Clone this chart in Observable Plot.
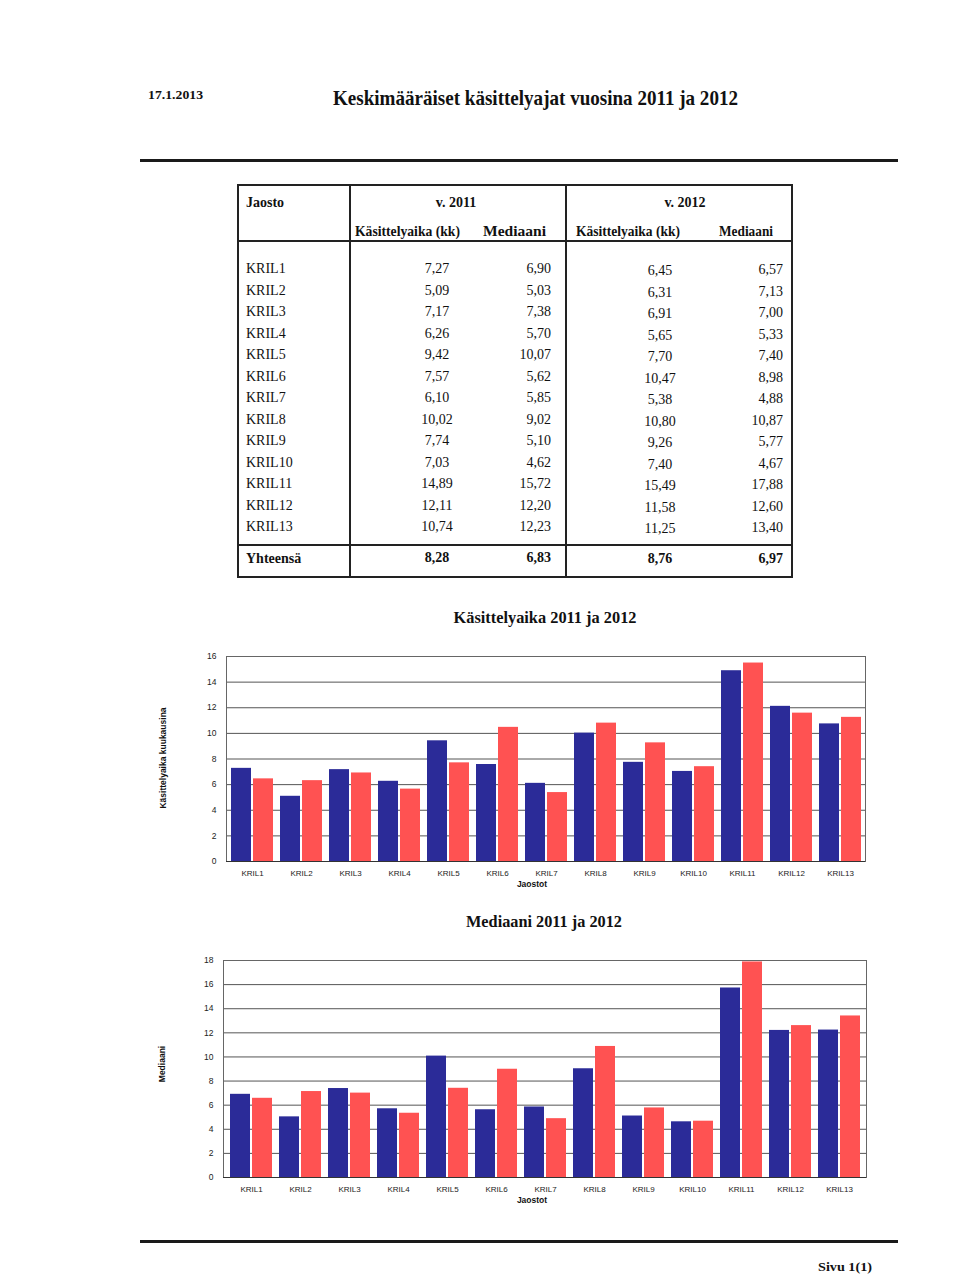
<!DOCTYPE html>
<html><head><meta charset="utf-8">
<script src="https://cdn.jsdelivr.net/npm/d3@7"></script>
<script src="https://cdn.jsdelivr.net/npm/@observablehq/plot@0.6"></script>
<style>
body{margin:0;background:#fff;}
#page{position:relative;width:960px;height:1275px;background:#fff;overflow:hidden;color:#111;}
.abs{position:absolute;white-space:nowrap;line-height:1;}
.ln{position:absolute;background:#222;}
.chart{position:absolute;left:0;}
</style></head><body><div id="page"></div>
<script>
// ---------- data ----------
const categories = ["KRIL1","KRIL2","KRIL3","KRIL4","KRIL5","KRIL6","KRIL7","KRIL8","KRIL9","KRIL10","KRIL11","KRIL12","KRIL13"];
const kasittely2011 = [7.27,5.09,7.17,6.26,9.42,7.57,6.10,10.02,7.74,7.03,14.89,12.11,10.74];
const mediaani2011  = [6.90,5.03,7.38,5.70,10.07,5.62,5.85,9.02,5.10,4.62,15.72,12.20,12.23];
const kasittely2012 = [6.45,6.31,6.91,5.65,7.70,10.47,5.38,10.80,9.26,7.40,15.49,11.58,11.25];
const mediaani2012  = [6.57,7.13,7.00,5.33,7.40,8.98,4.88,10.87,5.77,4.67,17.88,12.60,13.40];
const totalLabel = "Yhteensä";
const totals = [8.28, 6.83, 8.76, 6.97];
const yearHeaders = ["v. 2011", "v. 2012"];
const colHeaders = ["Käsittelyaika (kk)", "Mediaani"];

const SERIF = '"Liberation Serif","Times New Roman",serif';
const SANS = '"Liberation Sans",Arial,sans-serif';
const BLUE = "#2b2b98";
const RED = "#ff5252";
const page = document.getElementById("page");
const fmt = v => v.toFixed(2).replace(".", ",");

function txt(s, x, y, o = {}) {
  const {size = 14, weight = "normal", family = SERIF, anchor = "start", fit = null, rotate = 0, color = "#111"} = o;
  const d = document.createElement("div");
  d.className = "abs"; d.textContent = s;
  Object.assign(d.style, {left: x + "px", top: y + "px", fontSize: size + "px", fontWeight: weight, fontFamily: family, color});
  page.appendChild(d);
  const w = d.getBoundingClientRect().width;
  const sx = fit ? fit / w : 1;
  const p = anchor === "middle" ? 50 : anchor === "end" ? 100 : 0;
  d.style.transformOrigin = `${p}% 50%`;
  d.style.transform = `translate(${-p}%,-50%) ${rotate ? `rotate(${rotate}deg)` : ""} scaleX(${sx})`;
  return d;
}
function line(x, y, w, h, color = "#222") {
  const d = document.createElement("div");
  d.className = "ln";
  Object.assign(d.style, {left: x + "px", top: y + "px", width: w + "px", height: h + "px", background: color});
  page.appendChild(d);
}

// ---------- header ----------
txt("17.1.2013", 148, 94, {size: 13, weight: "bold", fit: 55});
txt("Keskimääräiset käsittelyajat vuosina 2011 ja 2012", 333, 98, {size: 21, weight: "bold", fit: 405});
line(140, 159, 758, 2.5, "#1a1a1a");

// ---------- table ----------
const T = {l: 237, r: 793, t: 184, b: 578};
line(T.l, T.t, T.r - T.l, 2);
line(T.l, T.b - 2, T.r - T.l, 2);
line(T.l, T.t, 2, T.b - T.t);
line(T.r - 2, T.t, 2, T.b - T.t);
line(349, T.t, 1.5, T.b - T.t);
line(565, T.t, 1.5, T.b - T.t);
line(T.l, 240, T.r - T.l, 1.5);
line(T.l, 544, T.r - T.l, 1.5);

txt("Jaosto", 246, 203, {size: 14, weight: "bold"});
txt(yearHeaders[0], 456, 203, {size: 14, weight: "bold", anchor: "middle"});
txt(yearHeaders[1], 685, 203, {size: 14, weight: "bold", anchor: "middle"});
txt(colHeaders[0], 355, 232, {size: 14, weight: "bold", fit: 105});
txt(colHeaders[1], 546, 232, {size: 14, weight: "bold", anchor: "end", fit: 63});
txt(colHeaders[0], 576, 232, {size: 14, weight: "bold", fit: 104});
txt(colHeaders[1], 773, 232, {size: 14, weight: "bold", anchor: "end", fit: 54});

categories.forEach((k, i) => {
  const y = 269 + i * 21.5;
  txt(k, 246, y, {size: 14});
  txt(fmt(kasittely2011[i]), 437, y, {size: 14, anchor: "middle"});
  txt(fmt(mediaani2011[i]), 551, y, {size: 14, anchor: "end"});
  txt(fmt(kasittely2012[i]), 660, y + 2, {size: 14, anchor: "middle"});
  txt(fmt(mediaani2012[i]), 783, y + 1, {size: 14, anchor: "end"});
});
txt(totalLabel, 246, 559, {size: 14, weight: "bold"});
txt(fmt(totals[0]), 437, 558, {size: 14, weight: "bold", anchor: "middle"});
txt(fmt(totals[1]), 551, 558, {size: 14, weight: "bold", anchor: "end"});
txt(fmt(totals[2]), 660, 559, {size: 14, weight: "bold", anchor: "middle"});
txt(fmt(totals[3]), 783, 559, {size: 14, weight: "bold", anchor: "end"});

// ---------- charts ----------
function barChart({top, a, b, yMax, marginLeft, marginRight, height}) {
  const rows = categories.map((k, i) => ({kril: k, v2011: a[i], v2012: b[i]}));
  const svg = Plot.plot({
    width: 960, height,
    marginLeft, marginRight, marginTop: 16, marginBottom: 39,
    style: {fontFamily: SANS, fontSize: "8px", color: "#222", background: "transparent"},
    x: {domain: categories, paddingInner: 0.15, paddingOuter: 0.03, label: null},
    y: {domain: [0, yMax], label: null},
    marks: [
      Plot.gridY({ticks: yMax / 2, stroke: "#555", strokeOpacity: 1, strokeWidth: 1}),
      Plot.barY(rows, {x: "kril", y: "v2011", fill: BLUE, insetRight: 22}),
      Plot.barY(rows, {x: "kril", y: "v2012", fill: RED, insetLeft: 22}),
      Plot.frame({stroke: "#666"}),
      Plot.ruleY([0], {stroke: "#333"}),
      Plot.axisY({ticks: yMax / 2, tickSize: 0, tickPadding: 10, label: null, fontSize: 8.5}),
      Plot.axisX({tickSize: 0, tickPadding: 9, label: null, fontSize: 8})
    ]
  });
  const wrap = document.createElement("div");
  wrap.className = "chart";
  wrap.style.top = top + "px";
  wrap.appendChild(svg);
  page.appendChild(wrap);
}

txt("Käsittelyaika 2011 ja 2012", 545, 617, {size: 17, weight: "bold", anchor: "middle", fit: 183});
barChart({top: 640, a: kasittely2011, b: kasittely2012, yMax: 16, marginLeft: 226, marginRight: 95, height: 260});
txt("Käsittelyaika kuukausina", 163, 758, {size: 8.5, weight: "bold", family: SANS, anchor: "middle", rotate: -90});
txt("Jaostot", 532, 884, {size: 8.5, weight: "bold", family: SANS, anchor: "middle"});

txt("Mediaani 2011 ja 2012", 544, 921, {size: 17, weight: "bold", anchor: "middle", fit: 156});
barChart({top: 944, a: mediaani2011, b: mediaani2012, yMax: 18, marginLeft: 223, marginRight: 94, height: 272});
txt("Mediaani", 162, 1064, {size: 8.5, weight: "bold", family: SANS, anchor: "middle", rotate: -90});
txt("Jaostot", 532, 1200, {size: 8.5, weight: "bold", family: SANS, anchor: "middle"});

// ---------- footer ----------
line(140, 1240, 758, 2.5, "#1a1a1a");
txt("Sivu  1(1)", 818, 1266, {size: 13, weight: "bold", fit: 54});
</script>
</body></html>
